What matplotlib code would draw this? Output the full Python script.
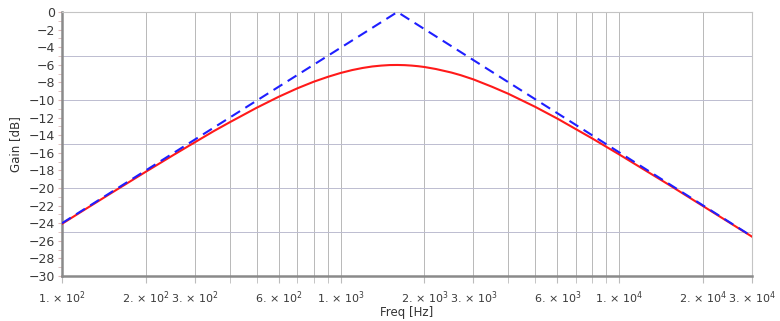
import matplotlib
matplotlib.use("Agg")
import matplotlib.pyplot as plt
from matplotlib.ticker import FixedLocator, NullFormatter, MultipleLocator

# Red curve (filter response)
freq = [100, 120, 150, 200, 250, 300, 350, 400, 500, 600, 700, 800, 900, 1000,
        1100, 1200, 1300, 1400, 1500, 1600, 1700, 1800, 1900, 2000, 2200, 2500,
        2700, 3000, 3500, 4000, 5000, 6000, 8000, 10000, 15000, 20000, 30000]
gain = [-24.07, -22.50, -20.59, -18.15, -16.29, -14.80, -13.55, -12.53, -10.88,
        -9.63, -8.67, -7.93, -7.37, -6.93, -6.60, -6.36, -6.19, -6.09, -6.03,
        -6.02, -6.04, -6.09, -6.16, -6.25, -6.48, -6.88, -7.18, -7.66, -8.50,
        -9.29, -10.78, -12.11, -14.36, -16.18, -19.58, -22.05, -25.53]

# Blue dashed asymptotes
asym_freq = [100, 1600, 30000]
asym_gain = [-24.0, 0.0, -25.5]

grid_x = [m * 10 ** e for e in (2, 3, 4) for m in range(1, 10) if m * 10 ** e <= 30000]
label_x = [100, 200, 300, 600, 1000, 2000, 3000, 6000, 10000, 20000, 30000]
label_txt = [r"1. $\times$ 10$^2$", r"2. $\times$ 10$^2$", r"3. $\times$ 10$^2$",
             r"6. $\times$ 10$^2$", r"1. $\times$ 10$^3$", r"2. $\times$ 10$^3$",
             r"3. $\times$ 10$^3$", r"6. $\times$ 10$^3$", r"1. $\times$ 10$^4$",
             r"2. $\times$ 10$^4$", r"3. $\times$ 10$^4$"]

plt.rcParams["font.family"] = ["DejaVu Sans"]
plt.rcParams["mathtext.default"] = "regular"

fig = plt.figure(figsize=(7.8, 3.21), dpi=100)
ax = fig.add_axes([62 / 780, 1 - 276 / 321, 690 / 780, 264 / 321])

ax.set_xscale("log")
ax.set_xlim(100, 30000)
ax.set_ylim(-30, 0)

for gx in grid_x:
    ax.axvline(gx, color="#b8b8b8", lw=0.7, zorder=1)
for gy in (-5, -10, -15, -20, -25):
    ax.axhline(gy, color="#bcbcd0", lw=0.7, zorder=1)

ax.plot(freq, gain, color="#ff1a1a", lw=1.5, zorder=3)
ax.plot(asym_freq, asym_gain, color="#1f1fff", lw=1.5, ls=(0, (5, 3)), zorder=4)

ax.xaxis.set_major_locator(FixedLocator(label_x))
ax.set_xticklabels(label_txt, fontsize=8, color="#3a3a3a")
ax.xaxis.set_minor_locator(FixedLocator(grid_x))
ax.xaxis.set_minor_formatter(NullFormatter())
ax.tick_params(axis="x", which="both", direction="out", length=5, color="#bcbcbc", pad=5)

ax.yaxis.set_minor_locator(MultipleLocator(1))
ax.set_yticks(range(-30, 1, 2))
ax.set_yticklabels([("\u2212%d" % -v) if v < 0 else "0" for v in range(-30, 1, 2)],
                   fontsize=9, color="#3a3a3a")
ax.tick_params(axis="y", which="both", direction="out", length=3, color="#dcb8b8", pad=2)

for side in ("top", "right"):
    ax.spines[side].set_color("#c4c4c4")
    ax.spines[side].set_linewidth(0.8)
for side in ("left", "bottom"):
    ax.spines[side].set_color("#8a8a8a")
    ax.spines[side].set_linewidth(1.8)

ax.set_xlabel("Freq [Hz]", fontsize=8.5, color="#333333", labelpad=0)
ax.set_ylabel("Gain [dB]", fontsize=8.5, color="#333333", labelpad=5)

fig.savefig("out.png", dpi=100)
